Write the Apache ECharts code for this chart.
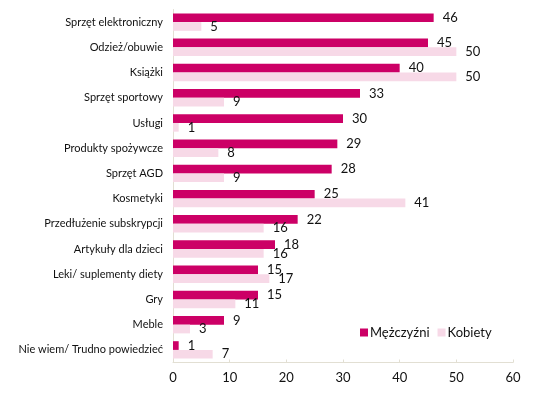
<!DOCTYPE html>
<html>
<head>
<meta charset="utf-8">
<script src="https://cdn.jsdelivr.net/npm/echarts@6/dist/echarts.min.js"></script>
<style>html,body{margin:0;padding:0;background:#fff;}#c{width:549px;height:399px;}</style>
</head>
<body>
<div id="c"></div>
<script>
const categories = ["Sprzęt elektroniczny","Odzież/obuwie","Książki","Sprzęt sportowy","Usługi","Produkty spożywcze","Sprzęt AGD","Kosmetyki","Przedłużenie subskrypcji","Artykuły dla dzieci","Leki/ suplementy diety","Gry","Meble","Nie wiem/ Trudno powiedzieć"];
const men = [46,45,40,33,30,29,28,25,22,18,15,15,9,1];
const women = [5,50,50,9,1,8,9,41,16,16,17,11,3,7];
const xTicks = [0,10,20,30,40,50,60];

const FONT = 'Lato, "Open Sans", sans-serif';
const chart = echarts.init(document.getElementById('c'));
chart.setOption({
  animation: false,
  textStyle: {fontFamily: FONT},
  grid: {left: 173, right: 36, top: 9.5, bottom: 36.5, containLabel: false},
  legend: {
    left: 355, top: 321, itemWidth: 8, itemHeight: 8, itemGap: 8,
    icon: 'rect',
    textStyle: {fontSize: 13, color: '#111', fontFamily: FONT, padding: [0,0,0,-3]},
    data: ['Mężczyźni','Kobiety']
  },
  xAxis: {
    type: 'value', min: xTicks[0], max: xTicks[xTicks.length-1], interval: 10,
    axisLine: {show: true, lineStyle: {color: '#e2dfd3', width: 1}},
    axisTick: {show: true, inside: true, length: 3, lineStyle: {color: '#e2dfd3'}},
    splitLine: {show: false},
    axisLabel: {fontSize: 13, color: '#111', margin: 9}
  },
  yAxis: {
    type: 'category', data: categories, inverse: true,
    axisLine: {show: true, lineStyle: {color: '#e2dfd3', width: 1}},
    axisTick: {show: false},
    axisLabel: {fontSize: 11, color: '#111', margin: 10}
  },
  series: [
    {name: 'Mężczyźni', type: 'bar', data: men, barWidth: 8.7, barGap: '0%',
     itemStyle: {color: '#CC0066'},
     label: {show: true, position: 'right', distance: 9, fontSize: 13, color: '#111', fontFamily: FONT}},
    {name: 'Kobiety', type: 'bar', data: women, barWidth: 8.7, barGap: '0%',
     itemStyle: {color: '#F7D9E7'},
     label: {show: true, position: 'right', distance: 9, fontSize: 13, color: '#111', fontFamily: FONT}}
  ]
});
</script>
</body>
</html>
